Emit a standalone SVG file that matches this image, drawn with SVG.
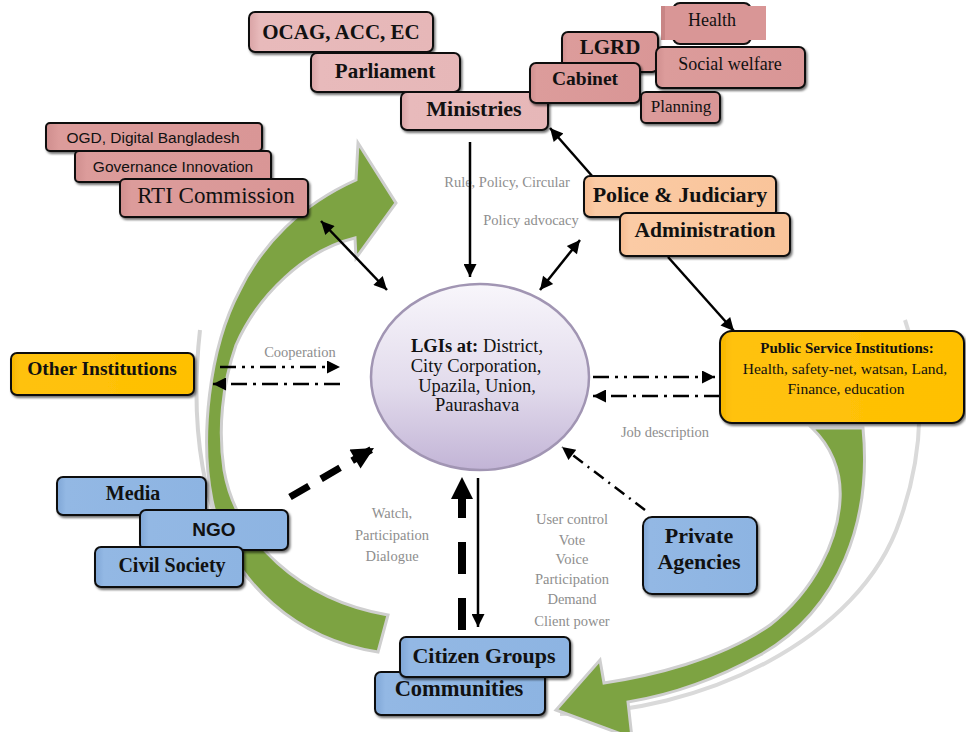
<svg xmlns="http://www.w3.org/2000/svg" width="966" height="732" viewBox="0 0 966 732">
<defs>
<style>
.bx{stroke:#111;stroke-width:2;filter:url(#sh)}
.pk1{fill:url(#gPk1)}
.pk2{fill:url(#gPk2)}
.pch{fill:url(#gPch)}
.gld{fill:url(#gGld)}
.blu{fill:url(#gBlu)}
.t{font-family:"Liberation Serif","Times New Roman",serif;fill:#111;text-anchor:middle}
.b{font-weight:bold}
.s{font-family:"Liberation Sans",Arial,sans-serif;fill:#111;text-anchor:middle}
.g{font-family:"Liberation Serif","Times New Roman",serif;fill:#8e8e8e;text-anchor:middle;font-size:14.5px}
.ln{fill:none;stroke:#000;stroke-width:2.5}
</style>
<filter id="sh" x="-10%" y="-10%" width="120%" height="130%">
<feDropShadow dx="1.5" dy="2" stdDeviation="0.8" flood-color="#000" flood-opacity="0.55"/>
</filter>
<linearGradient id="gPk1" x1="0" y1="0" x2="1" y2="0"><stop offset="0" stop-color="#d9a3a5"/><stop offset="0.06" stop-color="#e8babb"/><stop offset="1" stop-color="#e6b7b8"/></linearGradient>
<linearGradient id="gPk2" x1="0" y1="0" x2="1" y2="0"><stop offset="0" stop-color="#cf8e8e"/><stop offset="0.06" stop-color="#dc9c9b"/><stop offset="1" stop-color="#d99696"/></linearGradient>
<linearGradient id="gPch" x1="0" y1="0" x2="1" y2="0"><stop offset="0" stop-color="#f6bb90"/><stop offset="0.06" stop-color="#fbcba5"/><stop offset="1" stop-color="#f9c49a"/></linearGradient>
<linearGradient id="gGld" x1="0" y1="0" x2="1" y2="0"><stop offset="0" stop-color="#f6b500"/><stop offset="0.05" stop-color="#ffc20e"/><stop offset="1" stop-color="#ffc000"/></linearGradient>
<linearGradient id="gBlu" x1="0" y1="0" x2="1" y2="0"><stop offset="0" stop-color="#7fa6d6"/><stop offset="0.06" stop-color="#93b8e4"/><stop offset="1" stop-color="#8db4e2"/></linearGradient>
<linearGradient id="gEl" x1="0" y1="0" x2="0" y2="1"><stop offset="0" stop-color="#f8f6fb"/><stop offset="0.55" stop-color="#e2dbec"/><stop offset="1" stop-color="#c2b4d6"/></linearGradient>
<marker id="ah" viewBox="0 0 10 10" refX="10" refY="5" markerUnits="userSpaceOnUse" markerWidth="15" markerHeight="13" orient="auto-start-reverse"><path d="M0,0 L10,5 L0,10 z" fill="#000"/></marker>
<marker id="ahB" viewBox="0 0 10 10" refX="10" refY="5" markerUnits="userSpaceOnUse" markerWidth="24" markerHeight="22" orient="auto"><path d="M0,0 L10,5 L0,10 z" fill="#000"/></marker>
</defs>
<rect width="966" height="732" fill="#fff"/>

<g id="cycle-arrows">
<path d="M560,714 C700,714 860,640 900,520 C925,450 925,380 905,320" fill="none" stroke="#dadada" stroke-width="4"/>
<path d="M200,330 C190,420 200,520 250,580" fill="none" stroke="#d4d4d4" stroke-width="4"/>
<path d="M378,652 C300,640 230,585 212,500 C200,440 208,350 240,290 C262,245 300,205 356,180 L358,143 L396,203 L356,258 L355,238 C305,250 258,295 236,345 C222,385 218,430 224,470 C236,540 300,600 388,615 Z" fill="#7da342" stroke="#cfcfcf" stroke-width="3"/>
<path d="M863,428 C872,520 840,610 760,655 C715,680 670,695 628,702 L632,738 L556,710 L600,660 L604,683 C650,676 720,660 770,625 C815,590 838,540 840,500 C842,470 830,445 812,428 Z" fill="#7da342" stroke="#cfcfcf" stroke-width="3"/>
</g>

<g id="labels-gray">
<text class="g" x="507" y="187">Rule, Policy, Circular</text>
<text class="g" x="531" y="225">Policy advocacy</text>
<text class="g" x="300" y="357">Cooperation</text>
<text class="g" x="665" y="437">Job description</text>
<text class="g" x="392" y="518">Watch,</text>
<text class="g" x="392" y="540">Participation</text>
<text class="g" x="392" y="561">Dialogue</text>
<text class="g" x="572" y="524">User control</text>
<text class="g" x="572" y="545">Vote</text>
<text class="g" x="572" y="564">Voice</text>
<text class="g" x="572" y="584">Participation</text>
<text class="g" x="572" y="604">Demand</text>
<text class="g" x="572" y="626">Client power</text>
</g>

<g id="connectors">
<path class="ln" d="M470,142 L470,277" marker-end="url(#ah)"/>
<path class="ln" d="M593,177 L550,128" marker-end="url(#ah)"/>
<path class="ln" d="M321,221 L387,290" marker-start="url(#ah)" marker-end="url(#ah)"/>
<path class="ln" d="M540,290 L580,240" marker-start="url(#ah)" marker-end="url(#ah)"/>
<path class="ln" d="M668,257 L734,331" marker-end="url(#ah)"/>
<path class="ln" d="M220,367 L340,367" stroke-dasharray="16 6 3 6 3 6" marker-end="url(#ah)"/>
<path class="ln" d="M340,384 L213,384" stroke-dasharray="16 6 3 6" marker-end="url(#ah)"/>
<path class="ln" d="M593,377 L715,377" stroke-dasharray="16 6 3 6 3 6" marker-end="url(#ah)"/>
<path class="ln" d="M720,396 L593,396" stroke-dasharray="16 6 3 6" marker-end="url(#ah)"/>
<path d="M290,497 L374,448" fill="none" stroke="#000" stroke-width="7" stroke-dasharray="22 14" marker-end="url(#ahB)"/>
<path class="ln" d="M645,510 L562,447" stroke-width="2" stroke-dasharray="12 6 2 6" marker-end="url(#ah)"/>
<path d="M462,630 L462,477" fill="none" stroke="#000" stroke-width="8" stroke-dasharray="32 24" marker-end="url(#ahB)"/>
<path class="ln" d="M478,478 L478,627" stroke-width="3" marker-end="url(#ah)"/>
</g>

<g id="lgis">
<ellipse cx="480" cy="377" rx="109" ry="93" fill="url(#gEl)" stroke="#a195b3" stroke-width="2.5"/>
<text class="t" x="477" y="352" font-size="18.5"><tspan font-weight="bold">LGIs at:</tspan>  District,</text>
<text class="t" x="476" y="372" font-size="18.5">City Corporation,</text>
<text class="t" x="477" y="392" font-size="18.5">Upazila, Union,</text>
<text class="t" x="477" y="411" font-size="18.5">Paurashava</text>
</g>

<g id="ocag"><rect class="bx pk1" x="249" y="12" width="184" height="40" rx="6"/><text class="t b" x="341" y="39" font-size="21">OCAG, ACC, EC</text></g>
<g id="parliament"><rect class="bx pk1" x="311" y="53" width="149" height="39" rx="6"/><text class="t b" x="385" y="78" font-size="21">Parliament</text></g>
<g id="ministries"><rect class="bx pk1" x="401" y="92" width="147" height="38" rx="6"/><text class="t b" x="474" y="116" font-size="22">Ministries</text></g>

<g id="health"><rect x="673" y="3" width="78" height="41" rx="7" fill="#d99696" stroke="#111" stroke-width="2"/><rect x="661" y="6" width="105" height="34" fill="#d99696"/><rect x="661" y="6" width="4" height="34" fill="#c88585"/><text class="t" x="712" y="26" font-size="18">Health</text></g>
<g id="lgrd"><rect class="bx pk2" x="562" y="32" width="96" height="40" rx="6"/><text class="t b" x="610" y="54" font-size="21">LGRD</text></g>
<g id="social-welfare"><rect class="bx pk2" x="656" y="47" width="149" height="41" rx="6"/><text class="t" x="730" y="70" font-size="18">Social welfare</text></g>
<g id="cabinet"><rect class="bx pk2" x="530" y="63" width="110" height="40" rx="6"/><text class="t b" x="585" y="85" font-size="19.5">Cabinet</text></g>
<g id="planning"><rect class="bx pk2" x="641" y="92" width="79" height="31" rx="5"/><text class="t" x="681" y="112" font-size="17">Planning</text></g>

<g id="ogd"><rect class="bx pk2" x="46" y="123" width="216" height="28" rx="4"/><text class="s" x="153" y="143" font-size="15.5">OGD, Digital Bangladesh</text></g>
<g id="governance"><rect class="bx pk2" x="75" y="151" width="196" height="31" rx="4"/><text class="s" x="173" y="172" font-size="15.5">Governance Innovation</text></g>
<g id="rti"><rect class="bx pk2" x="120" y="179" width="188" height="38" rx="5"/><text class="t" x="216" y="203" font-size="23">RTI Commission</text></g>

<g id="police"><rect class="bx pch" x="584" y="176" width="192" height="41" rx="6"/><text class="t b" x="680" y="202" font-size="22">Police &amp; Judiciary</text></g>
<g id="administration"><rect class="bx pch" x="620" y="213" width="170" height="43" rx="6"/><text class="t b" x="705" y="237" font-size="21.5">Administration</text></g>

<g id="other-institutions"><rect class="bx gld" x="11" y="353" width="183" height="42" rx="6"/><text class="t b" x="102" y="375" font-size="19.5">Other Institutions</text></g>

<g id="public-service"><rect class="bx gld" x="720" y="331" width="244" height="92" rx="12"/>
<text class="t b" x="847" y="353" font-size="15">Public Service Institutions:</text>
<text class="t" x="845" y="374" font-size="15.5">Health, safety-net, watsan, Land,</text>
<text class="t" x="846" y="394" font-size="15.5">Finance, education</text></g>

<g id="media"><rect class="bx blu" x="57" y="477" width="149" height="38" rx="6"/><text class="t b" x="133" y="500" font-size="20">Media</text></g>
<g id="ngo"><rect class="bx blu" x="140" y="510" width="148" height="40" rx="6"/><text class="s b" x="214" y="536" font-size="19">NGO</text></g>
<g id="civil-society"><rect class="bx blu" x="95" y="547" width="148" height="40" rx="6"/><text class="t b" x="172" y="572" font-size="20">Civil Society</text></g>

<g id="private-agencies"><rect class="bx blu" x="643" y="517" width="114" height="77" rx="9"/><text class="t b" x="699" y="543" font-size="22">Private</text><text class="t b" x="699" y="569" font-size="22">Agencies</text></g>

<g id="communities"><rect class="bx blu" x="375" y="672" width="170" height="43" rx="6"/><text class="t b" x="459" y="696" font-size="22.5">Communities</text></g>
<g id="citizen-groups"><rect class="bx blu" x="400" y="637" width="170" height="40" rx="6"/><text class="t b" x="484" y="663" font-size="22">Citizen Groups</text></g>
</svg>
